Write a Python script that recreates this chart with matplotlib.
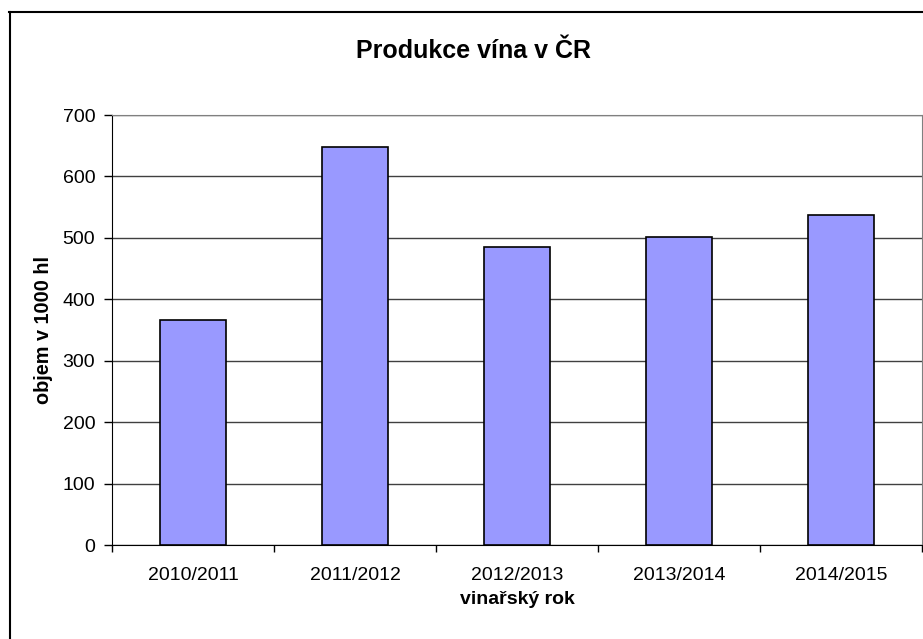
import matplotlib.pyplot as plt
from matplotlib.lines import Line2D
import numpy as np

plt.rcParams['font.family'] = ['Liberation Sans', 'DejaVu Sans']

# vinařské roky a objem produkce (tis. hl)
roky = ['2010/2011', '2011/2012', '2012/2013', '2013/2014', '2014/2015']
objem = [366, 648, 485, 501, 537]
y_ticks = [0, 100, 200, 300, 400, 500, 600, 700]

W, H = 923, 639
fig = plt.figure(figsize=(W / 100, H / 100), dpi=100)

# rámeček grafu
fig.add_artist(Line2D([9.5 / W, 9.5 / W], [0, 1 - 12 / H], transform=fig.transFigure,
                      color='black', lw=1.5))
fig.add_artist(Line2D([9 / W, 1], [1 - 12 / H, 1 - 12 / H], transform=fig.transFigure,
                      color='black', lw=1.5))

ax = fig.add_axes([112 / W, (H - 545) / H, 810 / W, 430 / H])

x = np.arange(len(roky))
ax.bar(x, objem, width=0.41, color='#9999FF', edgecolor='black', linewidth=1.2, zorder=3)

ax.set_xlim(-0.5, len(roky) - 0.5)
ax.set_ylim(0, 700)
ax.set_yticks(y_ticks)
ax.yaxis.grid(True, color='#404040', linewidth=1, zorder=0)

ax.set_xticks(x)
ax.set_xticklabels(roky, fontsize=14)
ax.set_xticks(np.arange(-0.5, len(roky)), minor=True)
ax.tick_params(axis='x', which='major', length=0, pad=16)
ax.tick_params(axis='x', which='minor', length=5, width=1, direction='out')
ax.tick_params(axis='y', length=6, width=1, direction='out', labelsize=14, pad=6)

for side in ['top', 'right']:
    ax.spines[side].set_color('#808080')
for side in ['left', 'bottom']:
    ax.spines[side].set_color('black')

ax.set_ylabel('objem v 1000 hl', fontsize=14.3, fontweight='bold', labelpad=7)
ax.set_xlabel('vinařský rok', fontsize=14, fontweight='bold', labelpad=5)

fig.text(473 / W, 1 - 51 / H, 'Produkce vína v ČR', fontsize=18, fontweight='bold',
         ha='center', va='center')

fig.savefig('out.png', dpi=100)
